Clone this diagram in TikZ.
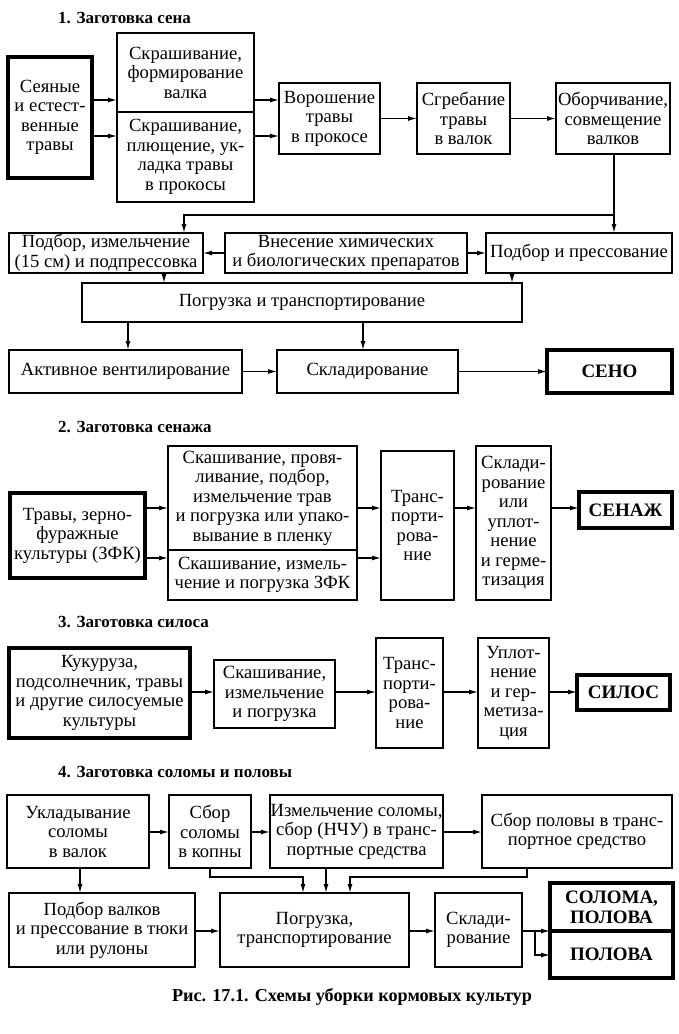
\documentclass[tikz,border=0pt]{standalone}
\usepackage{fontspec}
\setmainfont{Liberation Serif}
\usetikzlibrary{arrows.meta}
\tikzset{
  box/.style={draw, line width=1.5pt, inner sep=0pt, outer sep=0pt, align=center,
    font=\fontsize{18.6}{19.5}\selectfont},
  bold/.style={box, line width=3.2pt, font=\fontsize{19}{20}\selectfont\bfseries},
  thickbox/.style={box, line width=3.2pt},
  title/.style={anchor=west, inner sep=0pt, font=\fontsize{17}{18}\selectfont\bfseries},
  arr/.style={-{Latex[length=9pt,width=5pt]}, line width=1.3pt}
}
\newcommand{\bx}[7][]{\node[box,#1,minimum width={(#5-#3)*1pt},minimum height={(#6-#4)*1pt}] (#2) at ({(#3+#5)/2},{(#4+#6)/2}) {#7};}
\begin{document}
\begin{tikzpicture}[x=1pt,y=-1pt]
\useasboundingbox (0,0) rectangle (678,1034);
% ---------- 1 ----------
\node[title] (t1) at (58,18) {1. Заготовка сена};
\bx[thickbox]{A}{8}{57}{92}{178}{Сеяные\\и естест-\\венные\\травы}
\bx{B1}{117}{33}{254}{112}{Скрашивание,\\формирование\\валка}
\bx{B2}{117}{112}{254}{202}{Скрашивание,\\плющение, ук-\\ладка травы\\в прокосы}
\bx{C}{279}{83}{380}{154}{Ворошение\\травы\\в прокосе}
\bx{D}{417}{83}{510}{154}{Сгребание\\травы\\в валок}
\bx{E}{556}{83}{670}{154}{Оборчивание,\\совмещение\\валков}
\bx{F}{9}{233}{203}{273}{Подбор, измельчение\\(15 см) и подпрессовка}
\bx{G}{225}{233}{467}{273}{Внесение химических\\и биологических препаратов}
\bx{H}{486}{233}{672}{273}{Подбор и прессование}
\bx{I}{82}{283}{522}{322}{Погрузка и транспортирование}
\bx{J}{9}{350}{242}{393}{Активное вентилирование}
\bx{K}{277}{350}{458}{393}{Складирование}
\bx[bold]{L}{547}{350}{672}{393}{СЕНО}
\draw[arr] (A.east |- 0,100) -- (B1.west |- 0,100);
\draw[arr] (A.east |- 0,136) -- (B2.west |- 0,136);
\draw[arr] (B1.east |- 0,100) -- (C.west |- 0,100);
\draw[arr] (B2.east |- 0,136) -- (C.west |- 0,136);
\draw[arr] (C.east) -- (D.west);
\draw[arr] (D.east) -- (E.west);
\coordinate (j1) at (614,215);
\coordinate (j2) at (184,215);
\draw[arr] (E.south -| j1) -- (H.north -| j1);
\draw[arr] (j1) -- (j2) -- (F.north -| j2);
\draw[arr] (G.west) -- (F.east);
\draw[arr] (G.east) -- (H.west);
\draw[arr] (F.south -| 164,0) -- (I.north -| 164,0);
\draw[arr] (H.south -| 512,0) -- (I.north -| 512,0);
\draw[arr] (I.south -| 128,0) -- (J.north -| 128,0);
\draw[arr] (I.south -| 363,0) -- (K.north -| 363,0);
\draw[arr] (J.east) -- (K.west);
\draw[arr] (K.east) -- (L.west);
% ---------- 2 ----------
\node[title] (t2) at (58,427) {2. Заготовка сенажа};
\bx[thickbox]{M}{10}{493}{145}{578}{Травы, зерно-\\фуражные\\культуры (ЗФК)}
\bx{N1}{168}{446}{357}{550}{Скашивание, провя-\\ливание, подбор,\\измельчение трав\\и погрузка или упако-\\вывание в пленку}
\bx{N2}{168}{550}{357}{600}{Скашивание, измель-\\чение и погрузка ЗФК}
\bx{O}{381}{451}{454}{600}{Транс-\\порти-\\рова-\\ние}
\bx{P}{476}{446}{551}{600}{Склади-\\рование\\или\\уплот-\\нение\\и герме-\\тизация}
\bx[bold]{Q}{579}{492}{672}{528}{СЕНАЖ}
\draw[arr] (M.east |- 0,508) -- (N1.west |- 0,508);
\draw[arr] (M.east |- 0,558) -- (N2.west |- 0,558);
\draw[arr] (N1.east |- 0,508) -- (O.west |- 0,508);
\draw[arr] (N2.east |- 0,558) -- (O.west |- 0,558);
\draw[arr] (O.east |- 0,508) -- (P.west |- 0,508);
\draw[arr] (P.east |- 0,508) -- (Q.west |- 0,508);
% ---------- 3 ----------
\node[title] (t3) at (58,622) {3. Заготовка силоса};
\bx[thickbox]{R}{9}{648}{190}{738}{Кукуруза,\\подсолнечник, травы\\и другие силосуемые\\культуры}
\bx{S}{214}{660}{335}{728}{Скашивание,\\измельчение\\и погрузка}
\bx{T}{376}{638}{443}{748}{Транс-\\порти-\\рова-\\ние}
\bx{U}{478}{638}{549}{748}{Уплот-\\нение\\и гер-\\метиза-\\ция}
\bx[bold]{V}{577}{675}{670}{710}{СИЛОС}
\draw[arr] (R.east |- 0,692) -- (S.west |- 0,692);
\draw[arr] (S.east |- 0,692) -- (T.west |- 0,692);
\draw[arr] (T.east |- 0,692) -- (U.west |- 0,692);
\draw[arr] (U.east |- 0,692) -- (V.west |- 0,692);
% ---------- 4 ----------
\node[title] (t4) at (58,772) {4. Заготовка соломы и половы};
\bx{W}{7}{795}{149}{868}{Укладывание\\соломы\\в валок}
\bx{X}{169}{795}{251}{868}{Сбор\\соломы\\в копны}
\bx{Y}{270}{795}{443}{868}{Измельчение соломы,\\сбор (НЧУ) в транс-\\портные средства}
\bx{Z}{482}{795}{672}{868}{Сбор половы в транс-\\портное средство}
\bx{AA}{9}{893}{195}{967}{Подбор валков\\и прессование в тюки\\или рулоны}
\bx{BB}{220}{893}{409}{967}{Погрузка,\\транспортирование}
\bx{CC}{435}{893}{522}{967}{Склади-\\рование}
\bx[bold]{DA}{550}{883}{673}{931}{СОЛОМА,\\ПОЛОВА}
\bx[bold]{DB}{550}{931}{673}{978}{ПОЛОВА}
\draw[arr] (W.east |- 0,832) -- (X.west |- 0,832);
\draw[arr] (X.east |- 0,832) -- (Y.west |- 0,832);
\draw[arr] (Y.east |- 0,832) -- (Z.west |- 0,832);
\draw[arr] (W.south -| 80,0) -- (AA.north -| 80,0);
\coordinate (k1) at (210,877);
\coordinate (k2) at (303,877);
\coordinate (k3) at (527,877);
\coordinate (k4) at (350,877);
\draw[arr] (X.south -| k1) -- (k1) -- (k2) -- (BB.north -| k2);
\draw[arr] (Y.south -| 326,0) -- (BB.north -| 326,0);
\draw[arr] (Z.south -| k3) -- (k3) -- (k4) -- (BB.north -| k4);
\draw[arr] (AA.east |- 0,931) -- (BB.west |- 0,931);
\draw[arr] (BB.east |- 0,931) -- (CC.west |- 0,931);
\draw[arr] (CC.east |- 0,931) -- (DA.south west);
\coordinate (b1) at (535,931);
\draw[arr] (b1) -- (535,955) -- (DB.west |- 0,955);
\node[inner sep=0pt, font=\fontsize{18.2}{19}\selectfont\bfseries] (cap) at (352,997) {Рис. 17.1. Схемы уборки кормовых культур};
\end{tikzpicture}
\end{document}
